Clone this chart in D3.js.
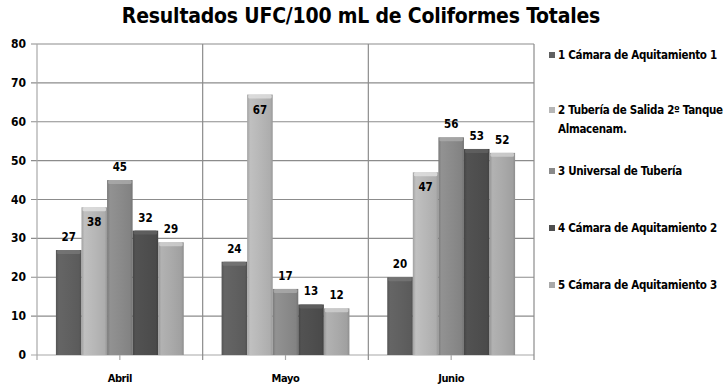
<!DOCTYPE html>
<html>
<head>
<meta charset="utf-8">
<script src="https://cdn.jsdelivr.net/npm/d3@7"></script>
<style>
  body { margin: 0; background: #fff; }
  text { font-family: "DejaVu Sans Condensed", "DejaVu Sans", sans-serif; font-weight: bold; }
</style>
</head>
<body>
<script>
const months = ["Abril", "Mayo", "Junio"];
const seriesNames = [
  "1 Cámara de Aquitamiento  1",
  "2 Tubería de Salida 2º Tanque|Almacenam.",
  "3 Universal de Tubería",
  "4 Cámara de Aquitamiento  2",
  "5 Cámara de Aquitamiento  3"
];
const camara1 = [27, 24, 20];
const tuberiaSalida = [38, 67, 47];
const universal = [45, 17, 56];
const camara2 = [32, 13, 53];
const camara3 = [29, 12, 52];
const yTicks = [0, 10, 20, 30, 40, 50, 60, 70, 80];

const allSeries = [camara1, tuberiaSalida, universal, camara2, camara3];
const colors = ["#606060", "#b6b6b6", "#8a8a8a", "#4e4e4e", "#a9a9a9"];
// labels of series 2 sit inside the bar top
const labelInside = [false, true, false, false, false];

const width = 724, height = 387;
const margin = { left: 37, right: 190, top: 44, bottom: 32 };

const svg = d3.select("body").append("svg")
  .attr("width", width)
  .attr("height", height);

//Gradients for the bevelled bars
const defs = svg.append("defs");
colors.forEach((c, i) => {
  const g = defs.append("linearGradient").attr("id", "bar" + i)
    .attr("x1", "0").attr("x2", "1").attr("y1", "0").attr("y2", "0");
  const base = d3.color(c);
  g.append("stop").attr("offset", "0%").attr("stop-color", base.darker(0.35));
  g.append("stop").attr("offset", "12%").attr("stop-color", base.brighter(0.15));
  g.append("stop").attr("offset", "55%").attr("stop-color", base);
  g.append("stop").attr("offset", "90%").attr("stop-color", base.darker(0.15));
  g.append("stop").attr("offset", "100%").attr("stop-color", base.darker(0.5));
});

//Title
svg.append("text")
  .attr("x", 361)
  .attr("y", 23)
  .attr("text-anchor", "middle")
  .style("font-size", "21px")
  .style("letter-spacing", "-0.2px")
  .text("Resultados UFC/100 mL de Coliformes Totales");

const x0 = d3.scaleBand()
  .domain(months)
  .range([margin.left, width - margin.right])
  .paddingInner(0)
  .paddingOuter(0);

const x1 = d3.scaleBand()
  .domain(d3.range(allSeries.length))
  .range([0, x0.bandwidth()])
  .paddingOuter(0.74)
  .paddingInner(0);

const y = d3.scaleLinear()
  .domain([0, 80])
  .range([height - margin.bottom, margin.top]);

//Horizontal gridlines
svg.append("g")
  .selectAll("line")
  .data(yTicks)
  .enter()
  .append("line")
  .attr("x1", margin.left - 6)
  .attr("x2", width - margin.right)
  .attr("y1", (d) => y(d))
  .attr("y2", (d) => y(d))
  .attr("stroke", (d) => (d === 0 ? "#a8a8a8" : "#8c8c8c"))
  .attr("stroke-width", 1.2);

//Vertical gridlines at category boundaries
const bounds = months.map((m) => x0(m)).concat([x0(months[2]) + x0.bandwidth()]);
svg.append("g")
  .selectAll("line")
  .data(bounds)
  .enter()
  .append("line")
  .attr("x1", (d) => d)
  .attr("x2", (d) => d)
  .attr("y1", y(80))
  .attr("y2", y(0) + 5)
  .attr("stroke", (d, i) => (i === 0 ? "#a8a8a8" : "#8c8c8c"))
  .attr("stroke-width", 1.2);

//Center ticks
svg.append("g")
  .selectAll("line")
  .data(months)
  .enter()
  .append("line")
  .attr("x1", (d) => x0(d) + x0.bandwidth() / 2)
  .attr("x2", (d) => x0(d) + x0.bandwidth() / 2)
  .attr("y1", y(0))
  .attr("y2", y(0) + 5)
  .attr("stroke", "#a8a8a8")
  .attr("stroke-width", 1.2);

//Y-axis labels
svg.append("g")
  .selectAll("text")
  .data(yTicks)
  .enter()
  .append("text")
  .attr("x", 26)
  .attr("y", (d) => y(d) + 4)
  .attr("text-anchor", "end")
  .style("font-size", "12px")
  .text((d) => d);

//X-axis labels
svg.append("g")
  .selectAll("text")
  .data(months)
  .enter()
  .append("text")
  .attr("x", (d) => x0(d) + x0.bandwidth() / 2)
  .attr("y", 382)
  .attr("text-anchor", "middle")
  .style("font-size", "11px")
  .style("letter-spacing", "-0.4px")
  .text((d) => d);

//Bars
allSeries.forEach((values, s) => {
  const g = svg.append("g");
  const data = values.map((v, i) => ({ month: months[i], value: v }));
  g.selectAll("rect.bar")
    .data(data)
    .enter()
    .append("rect")
    .attr("class", "bar")
    .attr("x", (d) => x0(d.month) + x1(s))
    .attr("y", (d) => y(d.value))
    .attr("width", x1.bandwidth())
    .attr("height", (d) => y(0) - y(d.value))
    .attr("fill", "url(#bar" + s + ")");
  //top bevel
  g.selectAll("rect.bevel")
    .data(data)
    .enter()
    .append("rect")
    .attr("class", "bevel")
    .attr("x", (d) => x0(d.month) + x1(s) + 1)
    .attr("y", (d) => y(d.value))
    .attr("width", x1.bandwidth() - 2)
    .attr("height", 4)
    .attr("rx", 1.5)
    .attr("fill", d3.color(colors[s]).brighter(0.6))
    .attr("opacity", 0.8);
  g.selectAll("text")
    .data(data)
    .enter()
    .append("text")
    .attr("x", (d) => x0(d.month) + x1(s) + x1.bandwidth() / 2)
    .attr("y", (d) => (labelInside[s] ? y(d.value) + 19 : y(d.value) - 9))
    .attr("text-anchor", "middle")
    .style("font-size", "11.5px")
    .text((d) => d.value);
});

//Legend
const legendY = [55, 110, 171, 228, 285];
const legend = svg.append("g");
seriesNames.forEach((name, i) => {
  legend.append("rect")
    .attr("x", 549)
    .attr("y", legendY[i] - 3)
    .attr("width", 6)
    .attr("height", 6)
    .attr("fill", colors[i]);
  name.split("|").forEach((line, j) => {
    legend.append("text")
      .attr("x", 558)
      .attr("y", legendY[i] + 4 + j * 19)
      .style("font-size", "11.5px")
      .style("letter-spacing", "-0.3px")
      .text(line);
  });
});
</script>
</body>
</html>
